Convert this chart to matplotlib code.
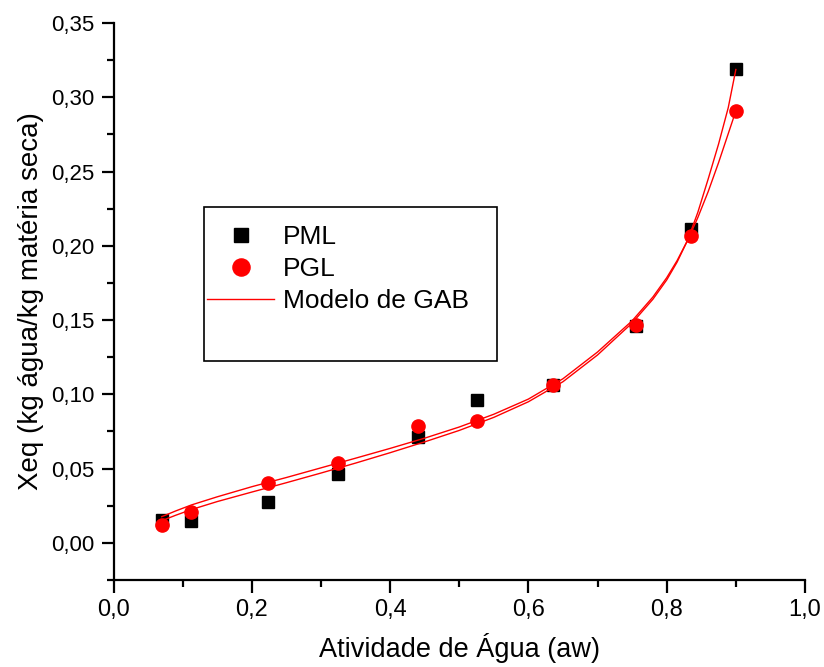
import matplotlib
matplotlib.use("Agg")
import matplotlib.pyplot as plt
from matplotlib.ticker import MultipleLocator, FuncFormatter
from matplotlib.patches import Rectangle

plt.rcParams['font.family'] = ['Liberation Sans', 'DejaVu Sans']

# Experimental data
aw_points = [0.0697, 0.1125, 0.2234, 0.324, 0.4405, 0.526, 0.635, 0.7556, 0.835, 0.900]
xeq_pml = [0.0153, 0.0147, 0.0273, 0.0462, 0.0712, 0.0959, 0.1063, 0.1460, 0.2113, 0.3187]
xeq_pgl = [0.0120, 0.0205, 0.0401, 0.0540, 0.0784, 0.0818, 0.1063, 0.1466, 0.2068, 0.2908]

# GAB model curves
aw_curve = [0.0697, 0.09, 0.1125, 0.15, 0.2, 0.224, 0.25, 0.3, 0.35, 0.4, 0.45, 0.5,
            0.55, 0.6, 0.65, 0.7, 0.75, 0.78, 0.8, 0.815, 0.83, 0.845, 0.86, 0.875,
            0.889, 0.9]
gab_pml = [0.0149, 0.0186, 0.0224, 0.0278, 0.0342, 0.0372, 0.0405, 0.0470, 0.0537,
           0.0607, 0.0680, 0.0757, 0.0845, 0.0950, 0.1085, 0.1265, 0.1480, 0.1640,
           0.1770, 0.1890, 0.2035, 0.2225, 0.2450, 0.2685, 0.2930, 0.3187]
gab_pgl = [0.0176, 0.0215, 0.0255, 0.0310, 0.0378, 0.0408, 0.0440, 0.0505, 0.0570,
           0.0636, 0.0705, 0.0780, 0.0866, 0.0968, 0.1105, 0.1285, 0.1495, 0.1655,
           0.1785, 0.1900, 0.2035, 0.2190, 0.2365, 0.2560, 0.2755, 0.2908]

labels = ["PML", "PGL", "Modelo de GAB"]
xlabel = "Atividade de Água (aw)"
ylabel = "Xeq (kg água/kg matéria seca)"

W, H = 824, 667
fig = plt.figure(figsize=(W / 100, H / 100), dpi=100)
ax = fig.add_axes([113.5 / W, 1 - 580 / H, (805 - 113.5) / W, (580 - 23) / H])

h_pml, = ax.plot(aw_points, xeq_pml, 's', color='black', markersize=8, zorder=3, label=labels[0])
ax.plot(aw_curve, gab_pml, '-', color='red', lw=1.0, zorder=4)
h_gab, = ax.plot(aw_curve, gab_pgl, '-', color='red', lw=1.0, zorder=4, label=labels[2])
h_pgl, = ax.plot(aw_points, xeq_pgl, 'o', color='red', markersize=9.5, zorder=5, label=labels[1])

ax.set_xlim(0, 1.0)
ax.set_ylim(-0.025, 0.35)
ax.xaxis.set_major_locator(MultipleLocator(0.2))
ax.xaxis.set_minor_locator(MultipleLocator(0.1))
ax.yaxis.set_major_locator(MultipleLocator(0.05))
ax.yaxis.set_minor_locator(MultipleLocator(0.025))
ax.xaxis.set_major_formatter(FuncFormatter(lambda v, p: f"{v:.1f}".replace('.', ',')))
ax.yaxis.set_major_formatter(FuncFormatter(lambda v, p: f"{v:.2f}".replace('.', ',')))

for s in ['top', 'right']:
    ax.spines[s].set_visible(False)
for s in ['left', 'bottom']:
    ax.spines[s].set_linewidth(1.6)
ax.tick_params(which='major', direction='out', length=9, width=1.6, pad=5)
ax.tick_params(axis='y', which='major', labelsize=16)
ax.tick_params(axis='x', which='major', labelsize=17, pad=5)
ax.tick_params(which='minor', direction='out', length=5, width=1.6)

ax.set_xlabel(xlabel, fontsize=19.5, labelpad=8)
ax.set_ylabel(ylabel, fontsize=20, labelpad=5)

# legend box
fig.patches.append(Rectangle((204 / W, 1 - 361 / H), (497 - 204) / W, (361 - 207) / H,
                             transform=fig.transFigure, fill=False, edgecolor='black',
                             linewidth=1.2))
leg = fig.legend(handles=[h_pml, h_pgl, h_gab], loc='upper left',
                 bbox_to_anchor=(207 / W, 1 - 225 / H), frameon=False, fontsize=19,
                 handlelength=2.55, handletextpad=0.33, borderpad=0, borderaxespad=0,
                 labelspacing=0.3, markerscale=1.3)

fig.savefig("out.png", dpi=100)
